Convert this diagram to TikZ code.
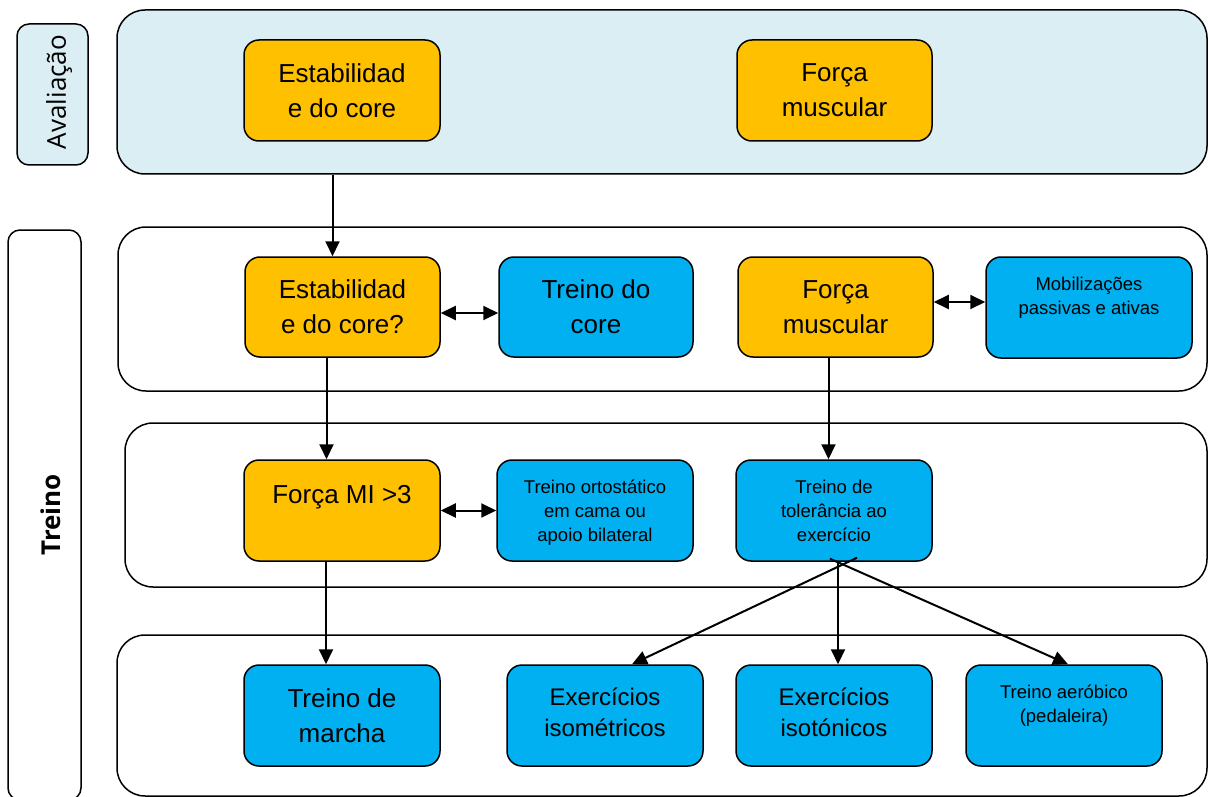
\documentclass[tikz,border=0pt]{standalone}
\usepackage{fontspec}
\setmainfont{Liberation Sans}
\newfontfamily\osans{Open Sans}
\usetikzlibrary{arrows.meta}
\definecolor{lblue}{HTML}{DAEEF3}
\definecolor{orng}{HTML}{FFC000}
\definecolor{cyanb}{HTML}{00B0F0}
\tikzset{
  cont/.style={draw, line width=1.5pt, rounded corners=28pt, inner sep=0pt},
  sidebox/.style={draw, line width=1.5pt, rounded corners=12pt, inner sep=0pt},
  box/.style={draw, line width=1.5pt, rounded corners=15pt, inner sep=0pt, align=center,
    minimum width=196pt, minimum height=101pt},
  obox/.style={box, fill=orng},
  bbox/.style={box, fill=cyanb},
  big/.style={font=\fontsize{26}{35}\selectfont},
  mid/.style={font=\fontsize{24}{31}\selectfont},
  small/.style={font=\fontsize{18.5}{24}\selectfont},
  toplab/.style={anchor=north, inner sep=0pt, align=center, font=\fontsize{18.5}{24}\selectfont},
  arr/.style={line width=2pt, -{Triangle[length=15pt,width=14pt]}},
  dbl/.style={line width=2pt, {Triangle[length=15pt,width=14pt]}-{Triangle[length=15pt,width=14pt]}}
}
\begin{document}
\begin{tikzpicture}[x=1pt,y=-1pt]
\useasboundingbox (0,0) rectangle (1208,797);
\clip (0,0) rectangle (1208,797);
% containers
\node[cont, fill=lblue, minimum width=1090pt, minimum height=164pt] (r1) at (662,92) {};
\node[cont, minimum width=1089pt, minimum height=164pt] (r2) at (662.5,309) {};
\node[cont, minimum width=1082pt, minimum height=164pt] (r3) at (666,505) {};
\node[cont, minimum width=1090pt, minimum height=161pt] (r4) at (662,715.5) {};
% side labels
\node[sidebox, fill=lblue, minimum width=71pt, minimum height=141pt] (aval) at (52.5,94.5) {};
\node[font=\osans\fontsize{26}{30}\selectfont, rotate=90, inner sep=0pt] (avalt) at (59,92) {Avaliação};
\node[sidebox, minimum width=73pt, minimum height=570pt] (trn) at (44.5,515) {};
\node[font=\osans\bfseries\fontsize{26}{30}\selectfont, rotate=90, inner sep=0pt] (trnt) at (51,515) {Treino};
% row 1
\node[obox, big] (est1) at (342,90.5) {Estabilidad\\e do core};
\node[obox, big, minimum width=195pt] (for1) at (834.5,90.5) {Força\\muscular};
% row 2
\node[obox, big, minimum width=195pt, minimum height=100pt] (est2) at (342.5,307) {Estabilidad\\e do core?};
\node[bbox, big, minimum width=194pt, minimum height=100pt] (core) at (596,307) {Treino do\\core};
\node[obox, big, minimum width=195pt, minimum height=100pt] (for2) at (835.5,307) {Força\\muscular};
\node[bbox, minimum width=206pt, label={[toplab, yshift=-21pt]north:{Mobilizações\\passivas e ativas}}] (mob) at (1089,307.5) {};
% row 3
\node[obox, label={[toplab, font=\fontsize{26}{35}\selectfont, yshift=-26pt]north:{Força MI >3}}] (fmi) at (342,510.5) {};
\node[bbox, small, text depth=0pt] (orto) at (595,510.5) {Treino ortostático\\em cama ou\\apoio bilateral};
\node[bbox, small] (tol) at (834,510.5) {Treino de\\tolerância ao\\exercício};
% row 4
\node[bbox, big] (marcha) at (342,715.5) {Treino de\\marcha};
\node[bbox, mid, text depth=6pt] (isom) at (605,715.5) {Exercícios\\isométricos};
\node[bbox, mid, text depth=6pt] (isot) at (834,715.5) {Exercícios\\isotónicos};
\node[bbox, label={[toplab, yshift=-20pt]north:{Treino aeróbico\\(pedaleira)}}] (aero) at (1064,715.5) {};
% connectors
\draw[arr] ([xshift=-10pt]est2.north |- r1.south) -- ([xshift=-10pt]est2.north);
\draw[arr] ([xshift=-16pt]est2.south) -- ([xshift=-16pt]est2.south |- fmi.north);
\draw[arr] ([xshift=-16pt]fmi.south) -- ([xshift=-16pt]fmi.south |- marcha.north);
\draw[arr] ([xshift=-7pt]for2.south) -- ([xshift=-7pt]for2.south |- tol.north);
\draw[dbl] ([yshift=-6pt]est2.east) -- ([yshift=-6pt]est2.east -| core.west);
\draw[dbl] ([yshift=5pt]for2.east) -- ([yshift=5pt]for2.east -| mob.west);
\draw[dbl] (fmi.east) -- (fmi.east -| orto.west);
\coordinate (j) at ([xshift=4pt]tol.south);
\coordinate (ja) at ([xshift=23pt,yshift=4pt]tol.south);
\coordinate (jb) at ([xshift=-4pt,yshift=3pt]tol.south);
\draw[arr] (ja) -- ([xshift=27pt]isom.north);
\draw[arr] (j) -- ([xshift=4pt]isot.north);
\draw[arr] (jb) -- ([xshift=4pt]aero.north);
\end{tikzpicture}
\end{document}
